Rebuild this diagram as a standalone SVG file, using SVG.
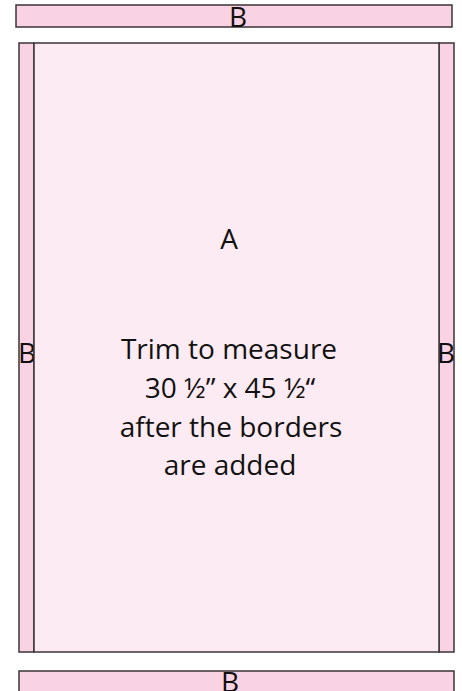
<svg xmlns="http://www.w3.org/2000/svg" width="462" height="691" viewBox="0 0 462 691">
<style>
.strip{fill:#f9d2e4;stroke:#3a3536;stroke-width:1.5}
.main{fill:#fdebf3;stroke:#3a3536;stroke-width:1.5}
text{font-family:"Open Sans","Liberation Sans",sans-serif;fill:#111;text-anchor:middle}
.lbl{font-size:28px}
.body{font-size:28px}
</style>
<rect width="462" height="691" fill="#fff"/>
<g id="B-top">
<rect class="strip" x="16" y="5" width="436" height="22"/>
<text class="lbl" x="238" y="27">B</text>
</g>
<g id="B-left">
<rect class="strip" x="19" y="43" width="15" height="609"/>
<text class="lbl" x="27" y="363">B</text>
</g>
<g id="B-right">
<rect class="strip" x="439" y="43" width="15" height="609"/>
<text class="lbl" x="446" y="363">B</text>
</g>
<g id="A">
<rect class="main" x="34" y="43" width="405" height="609"/>
<text class="lbl" x="229" y="249">A</text>
<text class="body" x="229" y="359">Trim to measure</text>
<text class="body" x="230" y="398">30 ½” x 45 ½“</text>
<text class="body" x="231" y="437">after the borders</text>
<text class="body" x="230" y="475">are added</text>
</g>
<g id="B-bottom">
<rect class="strip" x="19" y="671" width="435" height="30"/>
<text class="lbl" x="230" y="692">B</text>
</g>
<g id="connectors"/>
</svg>
